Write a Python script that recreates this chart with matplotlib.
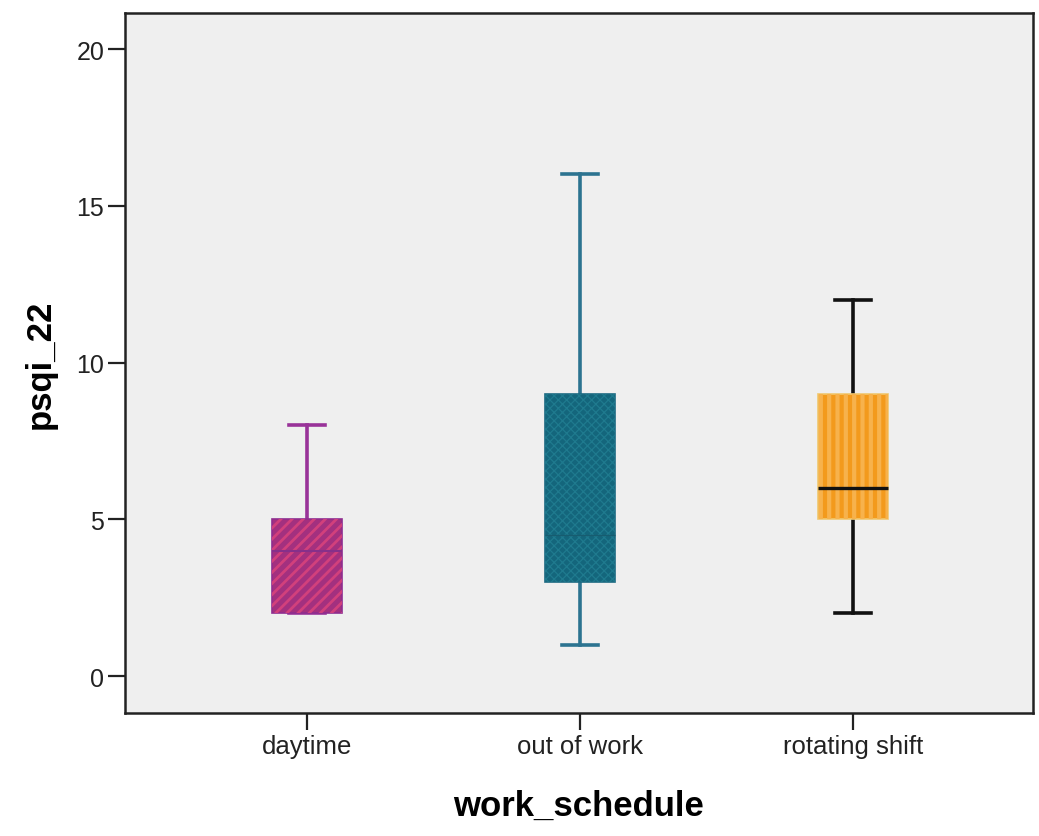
import matplotlib
matplotlib.use("Agg")
import matplotlib.pyplot as plt
from matplotlib.patches import PathPatch

categories = ["daytime", "out of work", "rotating shift"]
whisker_low = [2, 1, 2]
q1 = [2, 3, 5]
medians = [4, 4.5, 6]
q3 = [5, 9, 9]
whisker_high = [8, 16, 12]
y_ticks = [0, 5, 10, 15, 20]

face_colors = ["#a3307f", "#14667c", "#f39a1c"]
hatch_colors = ["#d2407c", "#1f7a8e", "#f7b24c"]
hatches = ["///", "xxxx", "||"]
hatch_widths = [2.0, 0.9, 3.0]
edge_colors = ["#8f2d8f", "#1d6a82", "#f0c870"]
line_colors = ["#993399", "#2c7390", "#111111"]
median_colors = ["#86308a", "#175c70", "#111111"]

plt.rcParams["font.family"] = ["Liberation Sans", "DejaVu Sans"]

fig = plt.figure(figsize=(10.39, 8.37), dpi=100)
ax = fig.add_axes([125/1039, 1 - 714/837, (1033-125)/1039, (714-14)/837])
ax.set_facecolor("#efefef")

stats = []
for i, c in enumerate(categories):
    stats.append(dict(label=c, whislo=whisker_low[i], q1=q1[i], med=medians[i],
                      q3=q3[i], whishi=whisker_high[i], fliers=[]))

positions = list(range(len(categories)))
res = ax.bxp(stats, positions=positions, widths=0.256, patch_artist=True,
             showfliers=False, capwidths=0.13)

for i in range(len(categories)):
    box = res["boxes"][i]
    box.set_facecolor(face_colors[i])
    box.set_edgecolor(edge_colors[i])
    box.set_linewidth(1.2)
    box.set_zorder(2)
    plt.rcParams["hatch.linewidth"] = hatch_widths[i]
    overlay = PathPatch(box.get_path(), transform=box.get_transform(),
                        facecolor="none", edgecolor=hatch_colors[i],
                        hatch=hatches[i], linewidth=0, zorder=2.1)
    if hasattr(overlay, "set_hatch_linewidth"):
        overlay.set_hatch_linewidth(hatch_widths[i])
    ax.add_patch(overlay)
    for w in res["whiskers"][2*i:2*i+2]:
        w.set_color(line_colors[i]); w.set_linewidth(2.6); w.set_zorder(1.5)
    for cp in res["caps"][2*i:2*i+2]:
        cp.set_color(line_colors[i]); cp.set_linewidth(2.6); cp.set_zorder(1.5)
    m = res["medians"][i]
    m.set_color(median_colors[i])
    m.set_linewidth([1.5, 1.0, 2.4][i])
    m.set_zorder(3)

ax.set_xlim(-0.667, 2.659)
ax.set_ylim(-1.18, 21.15)
ax.set_yticks(y_ticks)
ax.set_yticklabels([str(t) for t in y_ticks])
ax.set_xticks(positions)
ax.set_xticklabels(categories)
ax.tick_params(axis="y", length=12, width=1.6, labelsize=18, pad=3, colors="#222222")
ax.tick_params(axis="x", length=12, width=1.6, labelsize=18.5, pad=3, colors="#222222")
for s in ax.spines.values():
    s.set_linewidth(1.8)
    s.set_color("#222222")

ax.set_ylabel("psqi_22", fontsize=25, fontweight="bold", labelpad=14)
ax.set_xlabel("work_schedule", fontsize=25, fontweight="bold", labelpad=22)

fig.savefig("out.png", dpi=100, facecolor="white")
